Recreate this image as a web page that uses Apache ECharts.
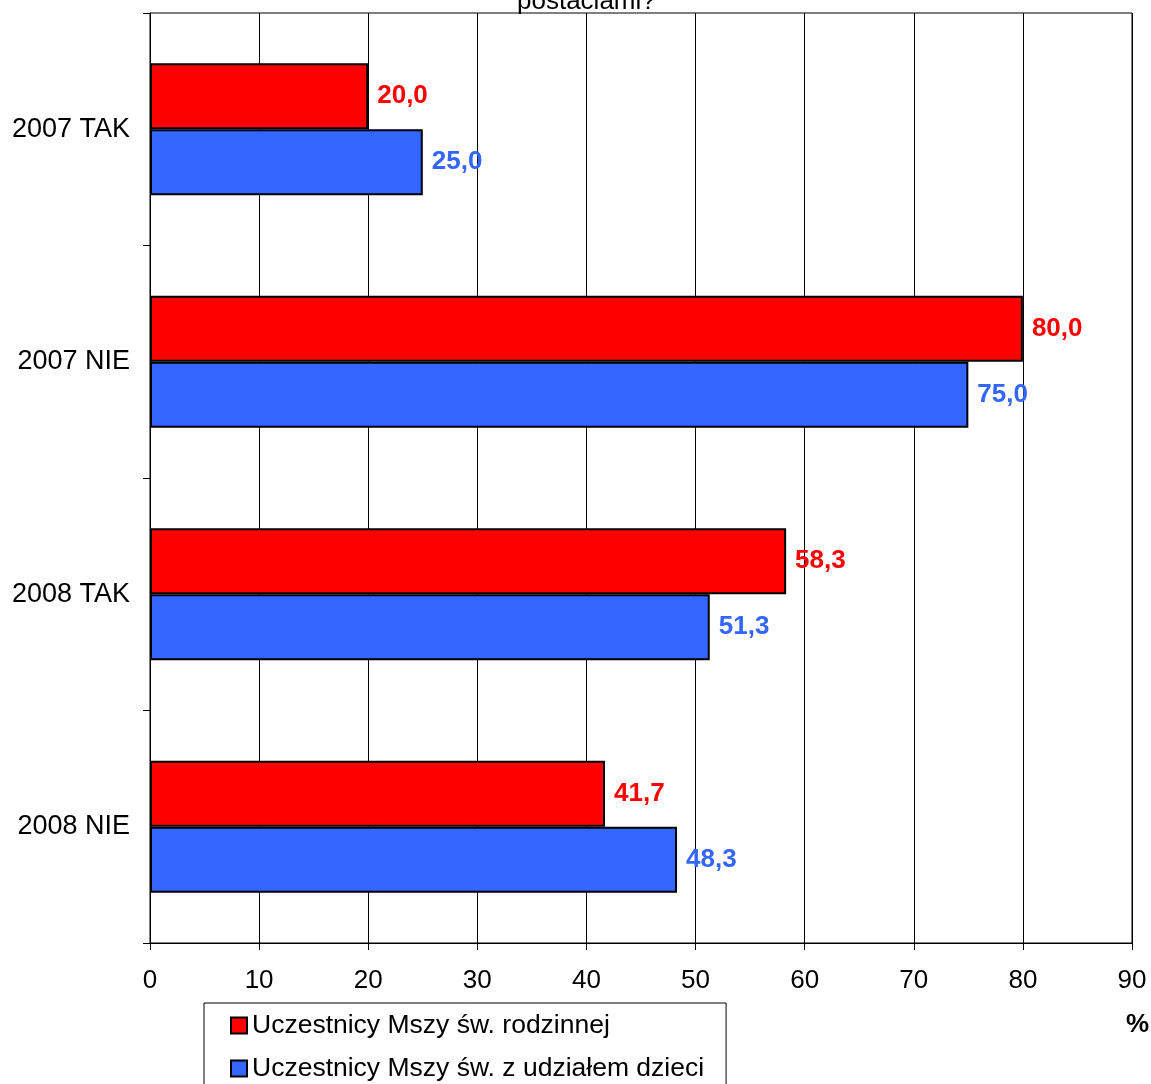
<!DOCTYPE html>
<html><head><meta charset="utf-8">
<script src="https://cdn.jsdelivr.net/npm/echarts@6/dist/echarts.min.js"></script>
<style>html,body{margin:0;padding:0;background:#fff}#c{width:1151px;height:1084px}</style>
</head><body><div id="c"></div>
<script>
var categories = ['2007 TAK', '2007 NIE', '2008 TAK', '2008 NIE'];
var seriesNames = ['Uczestnicy Mszy św. rodzinnej', 'Uczestnicy Mszy św. z udziałem dzieci'];
var redValues = [20.0, 80.0, 58.3, 41.7];
var blueValues = [25.0, 75.0, 51.3, 48.3];
var xTicks = {min: 0, max: 90, interval: 10};
var titleText = 'postaciami?';
var unitText = '%';

var FONT = '"Liberation Sans", Arial, sans-serif';
var FS = 26;
var chart = echarts.init(document.getElementById('c'), null, {renderer: 'canvas'});
function fmt(p){ return p.value.toFixed(1).replace('.', ','); }
chart.setOption({
  animation: false,
  textStyle: {fontFamily: FONT},
  grid: {left: 150, right: 19, top: 13, bottom: 141, show: true, borderColor: '#000', borderWidth: 1, containLabel: false},
  legend: {
    orient: 'vertical', left: 204, top: 1003, height: 200,
    padding: [9, 22, 30, 26],
    borderColor: '#000', borderWidth: 1,
    icon: 'rect',
    itemWidth: 16, itemHeight: 16, itemGap: 16,
    textStyle: {fontSize: 26.5, color: '#000', fontFamily: FONT},
    itemStyle: {borderColor: '#000', borderWidth: 2},
    data: seriesNames
  },
  graphic: [
    {type: 'text', left: 517, top: -11, style: {text: titleText, font: FS + 'px ' + FONT, fill: '#000'}},
    {type: 'text', left: 1126, top: 1012, style: {text: unitText, font: 'bold ' + FS + 'px ' + FONT, fill: '#000'}}
  ],
  xAxis: {
    type: 'value', min: xTicks.min, max: xTicks.max, interval: xTicks.interval,
    axisLine: {show: true, lineStyle: {color: '#000'}},
    axisTick: {show: true, length: 7, lineStyle: {color: '#000'}},
    axisLabel: {fontSize: FS, color: '#000', margin: 25, fontFamily: FONT},
    splitLine: {show: true, lineStyle: {color: '#000', width: 1}}
  },
  yAxis: {
    type: 'category', data: categories, inverse: true,
    axisLine: {show: true, lineStyle: {color: '#000'}},
    axisTick: {show: true, length: 7, lineStyle: {color: '#000'}},
    axisLabel: {fontSize: 27, color: '#000', margin: 20, fontFamily: FONT},
    splitLine: {show: false}
  },
  series: [
    {name: seriesNames[0], type: 'bar', data: redValues, barWidth: 66, barGap: '0%',
     itemStyle: {color: '#FF0000', borderColor: '#000', borderWidth: 2},
     label: {show: true, position: 'right', distance: 9, formatter: fmt, fontSize: FS, fontWeight: 'bold', color: '#FF0000', fontFamily: FONT}},
    {name: seriesNames[1], type: 'bar', data: blueValues, barWidth: 66, barGap: '0%',
     itemStyle: {color: '#3366FF', borderColor: '#000', borderWidth: 2},
     label: {show: true, position: 'right', distance: 9, formatter: fmt, fontSize: FS, fontWeight: 'bold', color: '#3366FF', fontFamily: FONT}}
  ]
});
</script></body></html>
